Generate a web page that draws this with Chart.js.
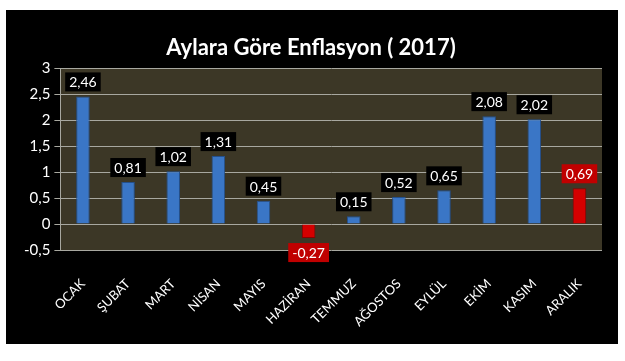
<!DOCTYPE html>
<html>
<head>
<meta charset="utf-8">
<script src="https://cdn.jsdelivr.net/npm/chart.js@4"></script>
<style>
  body { margin: 0; background: #fff; }
  #box { position: absolute; left: 6px; top: 10px; width: 612px; height: 334px; background: #000; }
</style>
</head>
<body>
<div id="box"><canvas id="myChart" width="612" height="334"></canvas></div>
<script>
// data
const months = ["OCAK", "ŞUBAT", "MART", "NİSAN", "MAYIS", "HAZİRAN", "TEMMUZ", "AĞOSTOS", "EYLÜL", "EKİM", "KASIM", "ARALIK"];
const inflation = [2.46, 0.81, 1.02, 1.31, 0.45, -0.27, 0.15, 0.52, 0.65, 2.08, 2.02, 0.69];
const yTicks = [-0.5, 0, 0.5, 1, 1.5, 2, 2.5, 3];

// months shown in red
const redMonths = ["HAZİRAN", "ARALIK"];
const isRed = (i) => redMonths.includes(months[i]);
const fmt = (v) => String(v).replace(".", ",");

// olive plot background
const plotBg = {
  id: "plotBg",
  beforeDraw(chart) {
    const { ctx, chartArea: a } = chart;
    ctx.save();
    ctx.fillStyle = "#3c3726";
    ctx.fillRect(a.left, a.top, a.right - a.left, a.bottom - a.top);
    ctx.restore();
  },
};

// value boxes over (or under) each bar
const valueBoxes = {
  id: "valueBoxes",
  afterDatasetsDraw(chart) {
    const { ctx } = chart;
    const meta = chart.getDatasetMeta(0);
    ctx.save();
    ctx.font = "14px Lato";
    ctx.textAlign = "center";
    ctx.textBaseline = "middle";
    meta.data.forEach((bar, i) => {
      const v = inflation[i];
      const txt = fmt(v);
      const w = ctx.measureText(txt).width + 8;
      const h = 19;
      let cy;
      if (v >= 0) cy = bar.y - 5 - h / 2;
      else cy = bar.y + 5 + h / 2;
      ctx.fillStyle = isRed(i) ? "#c00000" : "#000";
      ctx.fillRect(bar.x - w / 2, cy - h / 2, w, h);
      ctx.fillStyle = "#fff";
      ctx.fillText(txt, bar.x, cy + 1);
    });
    ctx.restore();
  },
};

const ctx = document.getElementById("myChart");
new Chart(ctx, {
  type: "bar",
  data: {
    labels: months,
    datasets: [
      {
        data: inflation,
        backgroundColor: inflation.map((v, i) => (isRed(i) ? "#d40000" : "#3a76c6")),
        borderColor: inflation.map((v, i) => (isRed(i) ? "#8a0000" : "#24508c")),
        borderWidth: 1,
        barPercentage: 0.3,
        categoryPercentage: 1,
      },
    ],
  },
  options: {
    responsive: false,
    animation: false,
    layout: { padding: { left: 14, right: 16, bottom: 0 } },
    plugins: {
      legend: { display: false },
      tooltip: { enabled: false },
      title: {
        display: true,
        text: "Aylara Göre Enflasyon ( 2017)",
        color: "#fff",
        font: { family: "Lato", size: 22, weight: "bold" },
        padding: { top: 25, bottom: 7 },
      },
    },
    scales: {
      y: {
        min: -0.5,
        max: 3,
        afterBuildTicks(scale) {
          scale.ticks = yTicks.map((v) => ({ value: v }));
        },
        ticks: {
          color: "#fff",
          font: { family: "Lato", size: 15 },
          padding: 4,
          callback: (v) => fmt(v),
        },
        grid: { color: "#a8a8a0", tickLength: 6, lineWidth: 1 },
        border: { color: "#a8a8a0" },
      },
      x: {
        afterFit(scale) {
          scale.height = 94;
        },
        ticks: {
          color: "#fff",
          font: { family: "Lato", size: 13 },
          minRotation: 45,
          maxRotation: 45,
          padding: 18,
        },
        grid: { display: false },
        border: { display: false },
      },
    },
  },
  plugins: [plotBg, valueBoxes],
});
</script>
</body>
</html>
